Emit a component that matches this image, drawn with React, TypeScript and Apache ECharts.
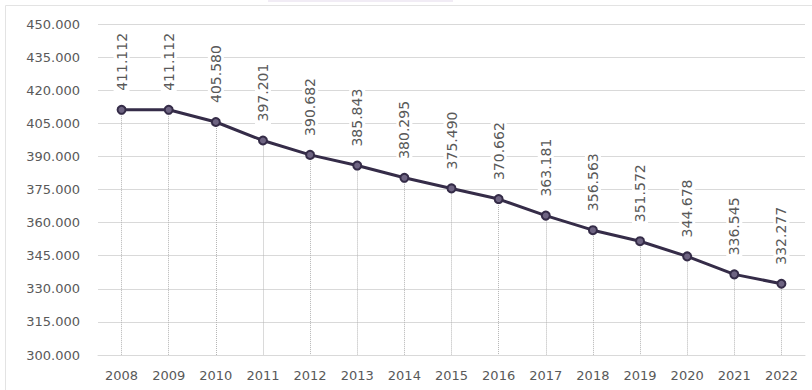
import React, { useEffect, useRef } from "react";
import * as echarts from "echarts";

const years = ["2008","2009","2010","2011","2012","2013","2014","2015","2016","2017","2018","2019","2020","2021","2022"];
const values = [411112, 411112, 405580, 397201, 390682, 385843, 380295, 375490, 370662, 363181, 356563, 351572, 344678, 336545, 332277];
const yMin = 300000;
const yMax = 450000;
const yStep = 15000;

function fmt(v: number): string {
  const th = Math.floor(v / 1000);
  const rest = Math.round(v % 1000);
  return th + "." + String(rest).padStart(3, "0");
}

export default function App() {
  const ref = useRef<HTMLDivElement>(null);
  useEffect(() => {
    if (!ref.current) return;
    const chart = echarts.init(ref.current, null, { renderer: "svg" });
    const font = "DejaVu Sans";
    chart.setOption({
      animation: false,
      backgroundColor: "#ffffff",
      textStyle: { fontFamily: font },
      graphic: [
        { type: "rect", shape: { x: 5.5, y: 5.5, width: 820, height: 400 }, style: { fill: "none", stroke: "#e3e3e3", lineWidth: 1 }, silent: true },
        { type: "rect", shape: { x: 268, y: 0, width: 185, height: 2 }, style: { fill: "#f1ecf5" }, silent: true }
      ],
      grid: { left: 98, right: 7, top: 24, bottom: 35, containLabel: false },
      xAxis: {
        type: "category",
        data: years,
        boundaryGap: true,
        axisTick: { show: false },
        axisLine: { show: true, lineStyle: { color: "#d9d9d9", width: 1 } },
        axisLabel: { color: "#595959", fontSize: 13, fontFamily: font, margin: 14 },
        splitLine: { show: false }
      },
      yAxis: {
        type: "value",
        min: yMin,
        max: yMax,
        interval: yStep,
        axisLine: { show: false },
        axisTick: { show: false },
        axisLabel: { color: "#595959", fontSize: 13, fontFamily: font, margin: 18, formatter: (v: number) => fmt(v) },
        splitLine: { show: true, lineStyle: { color: "#d9d9d9", width: 1 } }
      },
      series: [
        {
          type: "line",
          data: values,
          symbol: "circle",
          symbolSize: 8,
          itemStyle: { color: "#6e6482", borderColor: "#352c48", borderWidth: 2 },
          lineStyle: { color: "#352c48", width: 3 },
          label: {
            show: true,
            position: "top",
            rotate: 90,
            align: "left",
            verticalAlign: "middle",
            distance: 10,
            color: "#595959",
            fontSize: 14,
            fontFamily: font,
            backgroundColor: "#ffffff",
            padding: [1, 4],
            formatter: (p: any) => fmt(p.value)
          },
          markLine: {
            silent: true,
            symbol: "none",
            label: { show: false },
            lineStyle: { type: "dotted", color: "#b5b5b5", width: 1 },
            z: 1,
            data: values.map((v, i) => [
              { coord: [i, v] },
              { coord: [i, yMin] }
            ])
          },
          z: 3
        }
      ]
    });
    return () => chart.dispose();
  }, []);
  return <div ref={ref} style={{ position: "fixed", left: 0, top: 0, width: 812, height: 390 }} />;
}
